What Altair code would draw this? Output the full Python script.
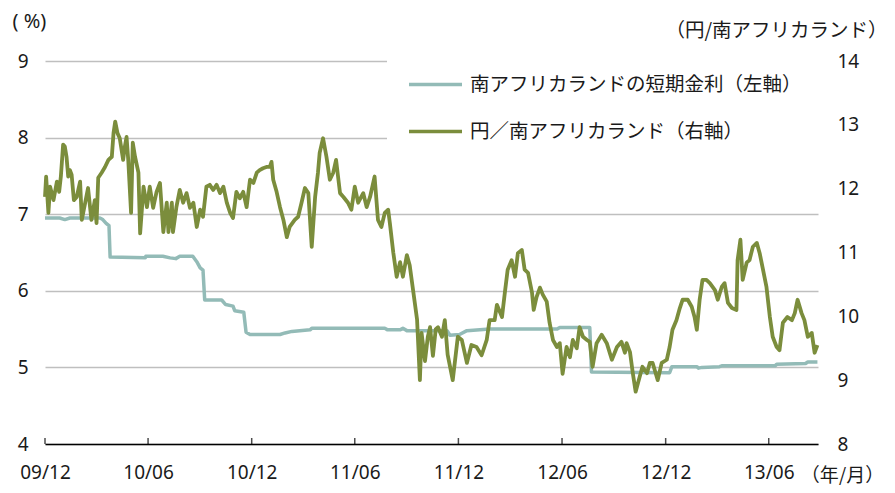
import altair as alt
import pandas as pd

START = "2009-12-01"
RATE_LABEL = "南アフリカランドの短期金利（左軸）"
FX_LABEL = "円／南アフリカランド（右軸）"
TEAL = "#93BBB7"
OLIVE = "#7B8D3C"
JP = "Noto Sans CJK JP"
NUM = "Noto Sans"

# days elapsed since 2009-12-01 and values
rate_day = [0, 26, 35, 44, 97, 102, 108, 113, 115, 177,
            178, 208, 221, 231, 238, 261, 268, 274, 279, 282,
            312, 319, 332, 335, 351, 355, 362, 415, 424, 436,
            468, 471, 600, 605, 627, 632, 639, 710, 715, 732,
            745, 785, 904, 909, 962, 965, 1103, 1107, 1151, 1154,
            1160, 1191, 1195, 1289, 1292, 1343, 1347, 1364]
rate_val = [6.95, 6.95, 6.93, 6.95, 6.95, 6.93, 6.88, 6.85, 6.44, 6.43,
            6.45, 6.45, 6.43, 6.42, 6.45, 6.45, 6.38, 6.30, 6.27, 5.88,
            5.88, 5.82, 5.80, 5.74, 5.72, 5.46, 5.43, 5.43, 5.45, 5.47,
            5.49, 5.51, 5.51, 5.49, 5.49, 5.51, 5.48, 5.48, 5.42, 5.43,
            5.48, 5.50, 5.50, 5.52, 5.52, 4.94, 4.93, 5.01, 5.01, 4.99,
            5.00, 5.01, 5.02, 5.02, 5.04, 5.05, 5.07, 5.07]

fx_day = [0, 2, 6, 9, 15, 21, 25, 28, 32, 35, 38, 41, 44, 47, 51, 56, 62, 65, 71, 76,
          82, 88, 91, 94, 100, 106, 112, 118, 121, 124, 128, 132, 138, 141, 144, 147, 152, 155, 159, 165,
          168, 174, 180, 185, 191, 197, 203, 209, 215, 218, 224, 226, 232, 238, 244, 250, 256, 262, 268, 274,
          279, 285, 291, 297, 303, 309, 315, 321, 327, 332, 338, 344, 350, 356, 362, 368, 374, 379, 385, 391,
          397, 400, 403, 409, 415, 421, 427, 432, 441, 447, 453, 459, 465, 471, 477, 482, 485, 491, 497, 503,
          509, 514, 521, 527, 535, 541, 547, 553, 562, 568, 574, 582, 588, 594, 600, 606, 609, 615, 621, 627,
          632, 639, 644, 650, 657, 662, 665, 671, 676, 680, 685, 690, 694, 701, 706, 711, 720, 729, 736, 745,
          753, 762, 771, 780, 785, 794, 798, 807, 812, 817, 824, 830, 835, 842, 847, 853, 860, 863, 868, 874,
          879, 886, 891, 897, 904, 909, 914, 921, 927, 932, 939, 944, 950, 957, 962, 967, 974, 983, 992, 1001,
          1010, 1018, 1024, 1027, 1033, 1038, 1043, 1050, 1055, 1063, 1068, 1073, 1082, 1089, 1098, 1103, 1108, 1115, 1121, 1126,
          1135, 1142, 1147, 1151, 1156, 1161, 1168, 1174, 1183, 1188, 1195, 1200, 1206, 1213, 1221, 1223, 1228, 1232, 1239, 1244,
          1250, 1257, 1262, 1267, 1274, 1280, 1285, 1292, 1297, 1303, 1311, 1319, 1324, 1329, 1336, 1341, 1347, 1354, 1359, 1364]
fx_val = [11.87, 12.19, 11.62, 12.03, 11.82, 12.11, 11.95, 12.19, 12.69, 12.66, 12.50, 12.19, 12.29, 12.22, 11.82, 11.87, 12.11, 11.51, 11.78, 12.01,
          11.51, 11.82, 11.46, 12.17, 12.25, 12.34, 12.45, 12.50, 12.87, 13.05, 12.87, 12.79, 12.45, 12.66, 12.81, 12.45, 11.62, 12.72, 12.50, 12.25,
          11.30, 12.03, 11.71, 12.03, 11.70, 11.95, 12.09, 11.32, 11.78, 11.32, 11.78, 11.32, 11.71, 11.98, 11.78, 11.93, 11.70, 11.78, 11.40, 11.67,
          11.56, 12.03, 12.06, 11.98, 12.06, 11.93, 12.03, 11.78, 11.62, 11.54, 11.95, 11.85, 11.95, 11.71, 12.14, 12.09, 12.25, 12.29, 12.32, 12.34,
          12.34, 12.42, 12.14, 11.95, 11.71, 11.51, 11.24, 11.40, 11.51, 11.56, 11.78, 12.01, 11.93, 11.09, 11.87, 12.25, 12.56, 12.79, 12.50, 12.14,
          12.25, 12.45, 11.93, 11.87, 11.78, 11.67, 12.03, 11.78, 11.93, 11.71, 11.87, 12.19, 11.51, 11.40, 11.62, 11.67, 11.46, 11.00, 10.62, 10.85,
          10.62, 10.96, 10.80, 10.41, 9.95, 9.00, 9.74, 9.30, 9.68, 9.83, 9.38, 9.80, 9.83, 9.68, 9.94, 9.40, 9.00, 9.68, 9.63, 9.27,
          9.55, 9.52, 9.39, 9.63, 9.94, 9.94, 10.18, 9.99, 10.37, 10.73, 10.88, 10.62, 10.99, 11.04, 10.73, 10.68, 10.37, 10.10, 10.30, 10.45,
          10.34, 10.23, 9.90, 9.63, 9.52, 9.58, 9.10, 9.52, 9.36, 9.63, 9.50, 9.83, 9.68, 9.63, 9.60, 9.21, 9.58, 9.71, 9.58, 9.32,
          9.52, 9.60, 9.43, 9.58, 9.44, 9.11, 8.82, 9.05, 9.21, 9.11, 9.27, 9.27, 9.00, 9.27, 9.32, 9.52, 9.79, 9.94, 10.13, 10.26,
          10.26, 10.15, 9.99, 9.79, 10.26, 10.57, 10.57, 10.52, 10.41, 10.26, 10.46, 10.52, 10.21, 10.13, 10.10, 10.88, 11.20, 10.57, 10.84, 10.88,
          11.09, 11.15, 10.99, 10.77, 10.46, 9.99, 9.68, 9.52, 9.47, 9.90, 9.99, 9.94, 10.05, 10.26, 10.05, 9.94, 9.68, 9.74, 9.43, 9.55]

tick_dates = ["2009-12-01", "2010-06-01", "2010-12-01", "2011-06-01",
              "2011-12-01", "2012-06-01", "2012-12-01", "2013-06-01"]
x_end = "2013-08-27"
left_ticks = [4, 5, 6, 7, 8, 9]
right_ticks = [8, 9, 10, 11, 12, 13, 14]


def to_dates(days):
    return list((pd.Timestamp(START) + pd.to_timedelta(days, unit="D")).strftime("%Y-%m-%d"))


def dt(s):
    t = pd.Timestamp(s)
    return alt.DateTime(year=t.year, month=t.month, date=t.day, utc=True)


df_rate = pd.DataFrame({"date": to_dates(rate_day), "value": rate_val, "series": RATE_LABEL})
df_fx = pd.DataFrame({"date": to_dates(fx_day), "value": fx_val, "series": FX_LABEL})
df_ticks = pd.DataFrame({"date": tick_dates, "value": [left_ticks[0]] * len(tick_dates)})

x_enc = alt.X(
    "date:T",
    scale=alt.Scale(type="utc", domain=[dt(START), dt(x_end)]),
    axis=alt.Axis(
        values=[dt(d) for d in tick_dates], format="%y/%m", ticks=False, tickSize=0,
        labelFont=NUM, labelFontSize=19, labelPadding=19, labelColor="#1a1a1a",
        domainColor="#000000", domainWidth=1.5, grid=False, zindex=1,
        title="（年/月）", titleFont=JP, titleFontSize=19, titleFontWeight="normal",
        titleColor="#1a1a1a", titleAlign="center", titleBaseline="middle",
        titleX=797, titleY=31, labelFlush=False,
    ),
)

color_enc = alt.Color(
    "series:N",
    scale=alt.Scale(domain=[RATE_LABEL, FX_LABEL], range=[TEAL, OLIVE]),
    legend=alt.Legend(
        title=None, orient="none", legendX=342, legendY=-20, direction="vertical",
        symbolType="stroke", symbolSize=2809, symbolStrokeWidth=3.5,
        labelFont=JP, labelFontSize=19.5, labelColor="#1a1a1a", labelOffset=6,
        labelLimit=0, clipHeight=47, padding=20, fillColor="white", rowPadding=0,
    ),
)

left_axis = alt.Axis(
    values=left_ticks, orient="left", grid=True, gridColor="#BFBFBF", gridWidth=1.5,
    domain=False, ticks=False, labelFont=NUM, labelFontSize=19, labelPadding=17,
    labelColor="#1a1a1a",
    title="( %)", titleAngle=0, titleFont=NUM, titleFontSize=20, titleFontWeight="normal",
    titleColor="#1a1a1a", titleAlign="left", titleBaseline="middle", titleX=-33, titleY=-40,
    titleLimit=0,
)
left_scale = alt.Scale(domain=[4, 9], nice=False, zero=False)

rate_line = alt.Chart(df_rate).mark_line(strokeWidth=3.5, strokeJoin="round").encode(
    x=x_enc,
    y=alt.Y("value:Q", scale=left_scale, axis=left_axis),
    color=color_enc,
)

tick_marks = alt.Chart(df_ticks).mark_tick(
    orient="vertical", size=6, thickness=1.5, color="#000000", yOffset=-3
).encode(
    x=alt.X("date:T"),
    y=alt.Y("value:Q", scale=left_scale, axis=left_axis),
)

fx_line = alt.Chart(df_fx).mark_line(strokeWidth=3.8, strokeJoin="round").encode(
    x=alt.X("date:T"),
    y=alt.Y(
        "value:Q",
        scale=alt.Scale(domain=[8, 14], nice=False, zero=False),
        axis=alt.Axis(
            values=right_ticks, orient="right", grid=False, domain=False, ticks=False,
            labelFont=NUM, labelFontSize=19, labelPadding=19, labelColor="#1a1a1a",
            title="（円/南アフリカランド）", titleAngle=0, titleFont=JP, titleFontSize=19.5,
            titleFontWeight="normal", titleColor="#1a1a1a", titleAlign="center",
            titleBaseline="middle", titleX=-42, titleY=-31,
        ),
    ),
    color=color_enc,
)

left = alt.layer(rate_line, tick_marks)
chart = (
    alt.layer(left, fx_line)
    .resolve_scale(y="independent", color="shared")
    .properties(
        width=773, height=383,
        padding={"left": 37, "top": 53, "right": 69, "bottom": 41},
        autosize=alt.AutoSizeParams(type="none"),
        background="white",
    )
    .configure_view(stroke=None)
)

chart.save("out.html", embed_options={"renderer": "svg", "actions": False})
